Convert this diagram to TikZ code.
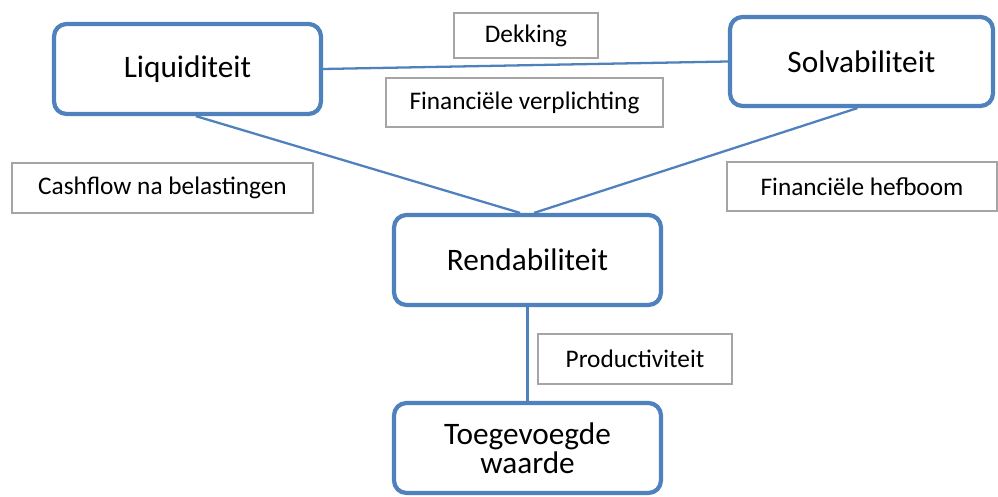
\documentclass[tikz,border=0pt]{standalone}
\usepackage{fontspec}
\setmainfont{Carlito}
\usepackage{tikz}
\usetikzlibrary{positioning}

\definecolor{kaderblauw}{RGB}{79,129,189}
\definecolor{kadergrijs}{RGB}{165,165,165}

\begin{document}
\begin{tikzpicture}[
  box/.style={draw=kaderblauw, line width=2.4pt, rounded corners=0.25cm, fill=white, align=center, inner sep=0pt, minimum width=5.34cm, minimum height=1.8cm, font=\fontsize{17.8}{14.2}\selectfont},
  lbl/.style={draw=kadergrijs, line width=0.6pt, fill=white, align=center, inner sep=0pt, minimum height=0.98cm, font=\fontsize{14.4}{16}\selectfont},
  edg/.style={draw=kaderblauw, line width=1.3pt}
]
\useasboundingbox (0,0) rectangle (19.96,-9.94);
\node[box] (Liq) at (3.75,-1.38) {Liquiditeit};
\node[box, minimum width=5.26cm, minimum height=1.78cm] (Solv) at (17.23,-1.23) {Solvabiliteit};
\node[box] (Rend) at (10.55,-5.2) {Rendabiliteit};
\node[box] (Toeg) at (10.55,-8.96) {Toegevoegde\\waarde};
\draw[edg] (Liq.east) -- (Solv.west);
\draw[edg] (Liq.-80) -- (Rend.99);
\draw[edg] (Solv.-95) -- (Rend.82);
\draw[edg] (Rend) -- (Toeg);
\node[lbl, minimum width=2.88cm, minimum height=0.9cm] (Dekk) at (10.52,-0.71) {Dekking};
\node[lbl, minimum width=5.54cm] (FinV) at (10.49,-2.05) {Financiële verplichting};
\node[lbl, minimum width=6.02cm, minimum height=1.0cm] (Cash) at (3.25,-3.76) {Cashflow na belastingen};
\node[lbl, minimum width=5.4cm] (FinH) at (17.24,-3.73) {Financiële hefboom};
\node[lbl, minimum width=3.88cm, minimum height=1.0cm] (Prod) at (12.7,-7.18) {Productiviteit};
\end{tikzpicture}
\end{document}
